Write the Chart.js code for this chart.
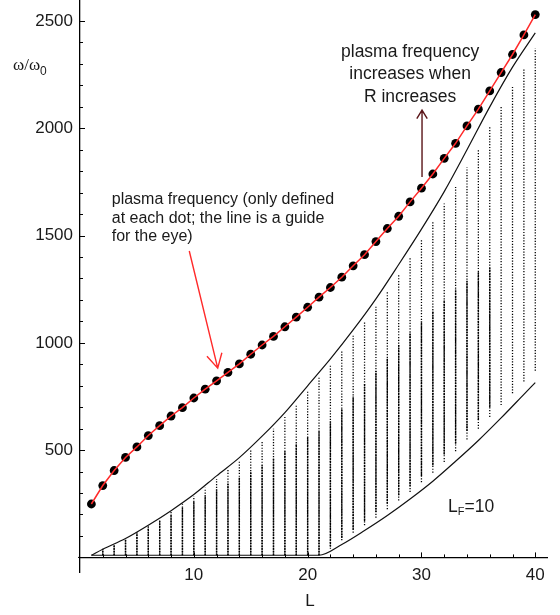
<!DOCTYPE html>
<html>
<head>
<meta charset="utf-8">
<script src="https://cdn.jsdelivr.net/npm/chart.js@4.4.1/dist/chart.umd.min.js"></script>
<style>
html, body { margin: 0; padding: 0; background: #fff; }
#wrap { position: relative; width: 560px; height: 615px; }
</style>
</head>
<body>
<div id="wrap"><canvas id="plasmaChart"></canvas></div>
<script>
// chain length L and the plasma frequency found at each length
const sizes = [1, 2, 3, 4, 5, 6, 7, 8, 9, 10, 11, 12, 13, 14, 15, 16, 17, 18, 19, 20,
               21, 22, 23, 24, 25, 26, 27, 28, 29, 30, 31, 32, 33, 34, 35, 36, 37, 38, 39, 40];
const plasmaFreq = [249, 335, 405, 466, 515, 568, 614, 659, 698, 743, 784, 823, 862, 902, 947, 990, 1030, 1075, 1120, 1166,
                    1213, 1258, 1306, 1359, 1411, 1472, 1533, 1590, 1657, 1721, 1787, 1860, 1930, 2011, 2089, 2174, 2260, 2344, 2435, 2530];

// upper and lower edges of the particle-hole continuum
const upperL = [1, 2, 4, 6, 8, 10, 12, 14, 16, 18, 20, 22, 24, 26, 28, 30, 32, 34, 36, 38, 40];
const upperEdge = [10, 38, 88, 150, 218, 293, 380, 465, 565, 675, 800, 925, 1060, 1205, 1365, 1530, 1705, 1900, 2100, 2285, 2445];
const lowerL = [1, 21, 23, 25, 27, 29, 31, 33, 35, 37, 39, 40];
const lowerEdge = [10, 10, 60, 125, 195, 272, 355, 448, 545, 650, 760, 815];

// spread of the single-particle excitations at each L (whole column, and its crowded part)
const columnL = [2, 3, 4, 5, 6, 7, 8, 9, 10, 11, 12, 13, 14, 15, 16, 17, 18, 19, 20, 21,
                 22, 23, 24, 25, 26, 27, 28, 29, 30, 31, 32, 33, 34, 35, 36, 37, 38, 39, 40];
const columnLow = [10, 10, 10, 10, 10, 10, 10, 10, 10, 10, 10, 10, 10, 10, 10, 10, 10, 10, 10, 10,
                   40, 80, 115, 150, 185, 225, 265, 305, 350, 395, 445, 495, 550, 600, 655, 710, 765, 820, 870];
const columnHigh = [40, 59, 88, 118, 145, 180, 212, 250, 285, 325, 365, 410, 450, 500, 545, 600, 655, 715, 776, 838,
                    900, 963, 1033, 1103, 1168, 1240, 1320, 1400, 1480, 1565, 1650, 1726, 1819, 1905, 2006, 2103, 2193, 2274, 2372];
const denseLow = [10, 10, 10, 10, 10, 10, 10, 10, 10, 10, 10, 10, 10, 10, 10, 10, 10, 10, 10, 10,
                  50, 90, 130, 170, 210, 250, 290, 330, 380, 430, 480, 530, 590, 640, 700, null, null, null, null];
const denseHigh = [38, 57, 85, 114, 140, 170, 200, 232, 262, 290, 318, 345, 372, 400, 430, 460, 495, 530, 560, 590,
                   635, 690, 750, 810, 870, 930, 990, 1050, 1100, 1150, 1200, 1250, 1290, 1330, 1350, null, null, null, null];

const xTicks = [10, 20, 30, 40];
const yTicks = [500, 1000, 1500, 2000, 2500];

const FONT = '"Liberation Sans", Arial, Helvetica, sans-serif';

function columnSegments(low, high) {
    const pts = [];
    columnL.forEach((L, i) => {
        if (low[i] === null) return;
        pts.push({ x: L, y: low[i] }, { x: L, y: high[i] }, { x: L, y: null });
    });
    return pts;
}

// inward tick marks, notes and arrows
const decorations = {
    id: 'decorations',
    afterDraw(chart) {
        const { ctx, scales: { x, y } } = chart;
        const x0 = x.getPixelForValue(0);
        const y0 = y.getPixelForValue(0);
        ctx.save();
        ctx.strokeStyle = '#000';
        ctx.lineWidth = 1;
        ctx.beginPath();
        for (let v = 2; v <= 40; v += 2) {
            const px = Math.round(x.getPixelForValue(v)) + 0.5;
            ctx.moveTo(px, y0);
            ctx.lineTo(px, y0 - (v % 10 === 0 ? 5 : 3));
        }
        for (let v = 100; v <= 2500; v += 100) {
            const py = Math.round(y.getPixelForValue(v)) + 0.5;
            ctx.moveTo(x0, py);
            ctx.lineTo(x0 + (v % 500 === 0 ? 5 : 3), py);
        }
        // the horizontal axis pokes out slightly left of the vertical one
        ctx.moveTo(x0 - 2, y0);
        ctx.lineTo(x0, y0);
        ctx.stroke();

        const arrow = (from, to, color, head, spread) => {
            const ax = x.getPixelForValue(from[0]), ay = y.getPixelForValue(from[1]);
            const bx = x.getPixelForValue(to[0]), by = y.getPixelForValue(to[1]);
            const ang = Math.atan2(by - ay, bx - ax);
            ctx.strokeStyle = color;
            ctx.lineWidth = 1.4;
            ctx.beginPath();
            ctx.moveTo(ax, ay);
            ctx.lineTo(bx, by);
            ctx.moveTo(bx - head * Math.cos(ang - spread), by - head * Math.sin(ang - spread));
            ctx.lineTo(bx, by);
            ctx.lineTo(bx - head * Math.cos(ang + spread), by - head * Math.sin(ang + spread));
            ctx.stroke();
        };
        arrow([9.6, 1428], [12.1, 882], '#ff2a2a', 16, 0.5);
        arrow([30.05, 1773], [30.05, 2085], '#5a1518', 10, 0.55);

        ctx.fillStyle = '#1a1a1a';
        ctx.textBaseline = 'middle';
        ctx.textAlign = 'left';
        ctx.font = '16px ' + FONT;
        const leftNote = ['plasma frequency (only defined', 'at each dot; the line is a guide', 'for the eye)'];
        leftNote.forEach((t, i) => {
            ctx.fillText(t, x.getPixelForValue(2.79), y.getPixelForValue(1666) + i * 18.4);
        });

        ctx.textAlign = 'center';
        ctx.font = '17.5px ' + FONT;
        const topNote = ['plasma frequency', 'increases when', 'R increases'];
        topNote.forEach((t, i) => {
            ctx.fillText(t, x.getPixelForValue(29.0), y.getPixelForValue(2356) + i * 22.6);
        });

        // L_F = 10
        ctx.textAlign = 'left';
        const lx = x.getPixelForValue(32.34), ly = y.getPixelForValue(235);
        ctx.font = '17.5px ' + FONT;
        ctx.fillText('L', lx, ly);
        const lw = ctx.measureText('L').width;
        ctx.font = '11px ' + FONT;
        ctx.fillText('F', lx + lw, ly + 5);
        const fw = ctx.measureText('F').width;
        ctx.font = '17.5px ' + FONT;
        ctx.fillText('=10', lx + lw + fw, ly);

        // axis titles
        ctx.font = '17px ' + FONT;
        ctx.textAlign = 'center';
        ctx.fillText('L', x.getPixelForValue(20.2), 601);

        ctx.textAlign = 'left';
        ctx.font = '17px "Liberation Serif", "Times New Roman", serif';
        const wx = 13, wy = 66;
        ctx.fillText('\u03c9/\u03c9', wx, wy);
        const ww = ctx.measureText('\u03c9/\u03c9').width;
        ctx.font = '12px ' + FONT;
        ctx.fillText('0', wx + ww, wy + 6);
        ctx.restore();
    }
};

const noEdgePadding = (scale) => {
    scale.paddingTop = 0;
    scale.paddingBottom = 0;
    scale.paddingLeft = 0;
    scale.paddingRight = 0;
};

new Chart(document.getElementById('plasmaChart'), {
    type: 'line',
    data: {
        datasets: [
            {
                label: 'guide line',
                data: sizes.map((L, i) => ({ x: L, y: plasmaFreq[i] })),
                borderColor: '#ff2a2a',
                borderWidth: 1.5,
                pointRadius: 0,
                tension: 0,
                order: 0
            },
            {
                label: 'plasma frequency',
                data: sizes.map((L, i) => ({ x: L, y: plasmaFreq[i] })),
                showLine: false,
                pointRadius: 4.4,
                pointBackgroundColor: '#000',
                pointBorderWidth: 0,
                order: 1
            },
            {
                label: 'upper edge',
                data: upperL.map((L, i) => ({ x: L, y: upperEdge[i] })),
                borderColor: '#111',
                borderWidth: 1.2,
                pointRadius: 0,
                cubicInterpolationMode: 'monotone',
                order: 2
            },
            {
                label: 'lower edge',
                data: lowerL.map((L, i) => ({ x: L, y: lowerEdge[i] })),
                borderColor: '#111',
                borderWidth: 1.2,
                pointRadius: 0,
                cubicInterpolationMode: 'monotone',
                order: 3
            },
            {
                label: 'excitations (crowded)',
                data: columnSegments(denseLow, denseHigh),
                borderColor: '#000',
                borderWidth: 1.4,
                borderDash: [2, 0.7],
                pointRadius: 0,
                spanGaps: false,
                order: 4
            },
            {
                label: 'excitations',
                data: columnSegments(columnLow, columnHigh),
                borderColor: '#000',
                borderWidth: 1.3,
                borderDash: [1.2, 1.6],
                pointRadius: 0,
                spanGaps: false,
                order: 5
            }
        ]
    },
    options: {
        responsive: true,
        maintainAspectRatio: false,
        animation: false,
        layout: { autoPadding: false, padding: { left: 0, right: 13, top: 0, bottom: 43 } },
        plugins: { legend: { display: false }, tooltip: { enabled: false } },
        scales: {
            x: {
                type: 'linear',
                min: 0,
                max: 41.03,
                position: { y: 0 },
                afterBuildTicks: (scale) => { scale.ticks = xTicks.map(v => ({ value: v })); },
                afterFit: noEdgePadding,
                grid: { display: false, drawTicks: false },
                border: { display: true, color: '#000', width: 1.3 },
                ticks: { color: '#1a1a1a', padding: 8, font: { family: FONT, size: 17 }, maxRotation: 0,
                         callback: (v) => String(v) }
            },
            y: {
                type: 'linear',
                min: -68,
                max: 2598,
                position: 'left',
                afterBuildTicks: (scale) => { scale.ticks = yTicks.map(v => ({ value: v })); },
                afterFit: (scale) => { noEdgePadding(scale); scale.width = 80; },
                grid: { display: false, drawTicks: false },
                border: { display: true, color: '#000', width: 1.3 },
                ticks: { color: '#1a1a1a', padding: 7, font: { family: FONT, size: 17 },
                         callback: (v) => String(v) }
            }
        }
    },
    plugins: [decorations]
});
</script>
</body>
</html>
